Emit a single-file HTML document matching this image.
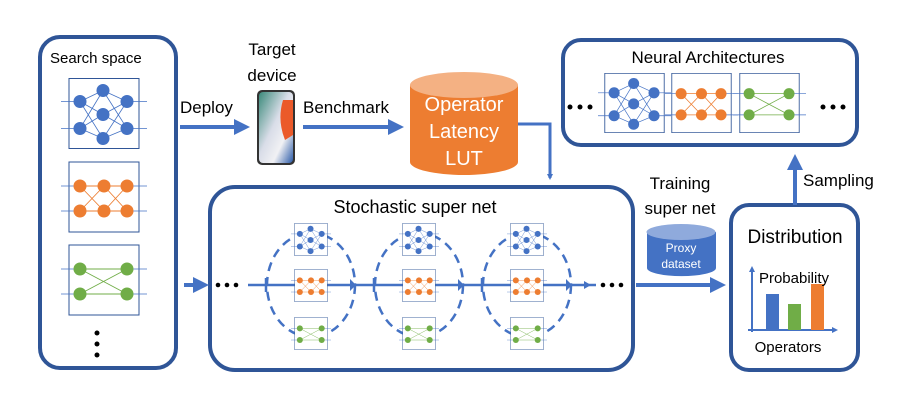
<!DOCTYPE html>
<html><head><meta charset="utf-8"><style>
html,body{margin:0;padding:0;background:#fff;width:910px;height:404px;overflow:hidden}
text{font-family:"Liberation Sans",sans-serif;fill:#000}
</style></head><body>
<svg width="910" height="404" viewBox="0 0 910 404" xmlns="http://www.w3.org/2000/svg">
<defs>
<marker id="ah" markerWidth="4" markerHeight="4" refX="2.5" refY="2" orient="auto" markerUnits="strokeWidth"><path d="M0,0 L4,2 L0,4 z" fill="#4472C4"/></marker>
<marker id="as" markerWidth="6" markerHeight="6" refX="4" refY="3" orient="auto" markerUnits="userSpaceOnUse"><path d="M0,0 L6,3 L0,6 z" fill="#4472C4"/></marker>
<symbol id="nb" viewBox="-8 0 86 70">
<rect x="0" y="0" width="70" height="70" fill="#fff" stroke="#2F5597" stroke-width="1"/>
<g stroke="#4472C4" stroke-width="0.8">
<line x1="-8" y1="23" x2="11" y2="23"/><line x1="-8" y1="50" x2="11" y2="50"/>
<line x1="58" y1="23" x2="78" y2="23"/><line x1="58" y1="50" x2="78" y2="50"/>
<path d="M11 23L34 12M11 23L34 36M11 23L34 60M11 50L34 12M11 50L34 36M11 50L34 60M58 23L34 12M58 23L34 36M58 23L34 60M58 50L34 12M58 50L34 36M58 50L34 60" fill="none"/></g>
<g fill="#4472C4"><circle cx="11" cy="23" r="6.5"/><circle cx="11" cy="50" r="6.5"/><circle cx="34" cy="12" r="6.5"/><circle cx="34" cy="36" r="6.5"/><circle cx="34" cy="60" r="6.5"/><circle cx="58" cy="23" r="6.5"/><circle cx="58" cy="50" r="6.5"/></g>
</symbol>
<symbol id="no" viewBox="-8 0 86 70">
<rect x="0" y="0" width="70" height="70" fill="#fff" stroke="#2F5597" stroke-width="1"/>
<g stroke="#4472C4" stroke-width="0.8"><line x1="-8" y1="24" x2="11" y2="24"/><line x1="-8" y1="49" x2="11" y2="49"/><line x1="58" y1="24" x2="78" y2="24"/><line x1="58" y1="49" x2="78" y2="49"/></g>
<path d="M11 24H58M11 49H58M11 24L35 49M11 49L35 24M35 24L58 49M35 49L58 24" stroke="#ED7D31" stroke-width="0.9" fill="none"/>
<g fill="#ED7D31"><circle cx="11" cy="24" r="6.5"/><circle cx="11" cy="49" r="6.5"/><circle cx="35" cy="24" r="6.5"/><circle cx="35" cy="49" r="6.5"/><circle cx="58" cy="24" r="6.5"/><circle cx="58" cy="49" r="6.5"/></g>
</symbol>
<symbol id="ng" viewBox="-8 0 86 70">
<rect x="0" y="0" width="70" height="70" fill="#fff" stroke="#2F5597" stroke-width="1"/>
<g stroke="#4472C4" stroke-width="0.8"><line x1="-8" y1="24" x2="11" y2="24"/><line x1="-8" y1="49" x2="11" y2="49"/><line x1="58" y1="24" x2="78" y2="24"/><line x1="58" y1="49" x2="78" y2="49"/></g>
<path d="M11 24H58M11 49H58M11 24L58 49M11 49L58 24" stroke="#70AD47" stroke-width="0.9" fill="none"/>
<g fill="#70AD47"><circle cx="11" cy="24" r="6.5"/><circle cx="11" cy="49" r="6.5"/><circle cx="58" cy="24" r="6.5"/><circle cx="58" cy="49" r="6.5"/></g>
</symbol>
</defs>

<!-- Search space -->
<rect x="40" y="37" width="136" height="331" rx="20" fill="#fff" stroke="#2F5597" stroke-width="4"/>
<text x="50" y="63" font-size="15">Search space</text>
<use href="#nb" x="61" y="78" width="86" height="71"/>
<use href="#no" x="61" y="161" width="86" height="72"/>
<use href="#ng" x="61" y="244" width="86" height="72"/>
<g fill="#000"><circle cx="97" cy="333" r="2.5"/><circle cx="97" cy="344" r="2.5"/><circle cx="97" cy="355" r="2.5"/></g>

<!-- Deploy / phone / benchmark -->
<line x1="180" y1="127" x2="244" y2="127" stroke="#4472C4" stroke-width="4" marker-end="url(#ah)"/>
<text x="180" y="113" font-size="17">Deploy</text>
<text x="272" y="55" font-size="17" text-anchor="middle">Target</text>
<text x="272" y="81" font-size="17" text-anchor="middle">device</text>
<defs><linearGradient id="ph" x1="0" y1="0" x2="1" y2="1"><stop offset="0" stop-color="#3a8a7a"/><stop offset="0.45" stop-color="#d9dde8"/><stop offset="0.7" stop-color="#f1f1f4"/><stop offset="1" stop-color="#2a5aa8"/></linearGradient></defs>
<rect x="257" y="90" width="38" height="75" rx="5" fill="#333"/>
<rect x="259" y="92" width="34" height="71" rx="4" fill="url(#ph)"/>
<path d="M283 100 Q277 120 285 140 L293 135 L293 100z" fill="#EB5A2A"/>
<line x1="303" y1="127" x2="398" y2="127" stroke="#4472C4" stroke-width="4" marker-end="url(#ah)"/>
<text x="303" y="113" font-size="17">Benchmark</text>

<!-- LUT cylinder -->
<path d="M410 85 V162 A54 13 0 0 0 518 162 V85 z" fill="#ED7D31"/>
<ellipse cx="464" cy="85" rx="54" ry="13" fill="#F4B183"/>
<text x="464" y="111" font-size="20" text-anchor="middle" style="fill:#fff">Operator</text>
<text x="464" y="138" font-size="20" text-anchor="middle" style="fill:#fff">Latency</text>
<text x="464" y="165" font-size="20" text-anchor="middle" style="fill:#fff">LUT</text>
<path d="M518 124 H550 V178" fill="none" stroke="#4472C4" stroke-width="3" marker-end="url(#as)"/>

<!-- Super net -->
<rect x="210" y="187" width="423" height="183" rx="25" fill="#fff" stroke="#2F5597" stroke-width="4"/>
<text x="415" y="213" font-size="18" text-anchor="middle">Stochastic super net</text>
<line x1="184" y1="285" x2="203" y2="285" stroke="#4472C4" stroke-width="4" marker-end="url(#ah)"/>
<g fill="#000"><circle cx="218" cy="285" r="2.3"/><circle cx="227" cy="285" r="2.3"/><circle cx="236" cy="285" r="2.3"/>
<circle cx="603" cy="285" r="2.3"/><circle cx="612" cy="285" r="2.3"/><circle cx="621" cy="285" r="2.3"/></g>
<line x1="248" y1="285" x2="596" y2="285" stroke="#4472C4" stroke-width="2.5"/>
<g fill="none" stroke="#4472C4" stroke-width="2.5" stroke-dasharray="9,6">
<ellipse cx="311" cy="285" rx="44" ry="52"/>
<ellipse cx="419" cy="285" rx="44" ry="52"/>
<ellipse cx="527" cy="285" rx="44" ry="52"/>
</g>
<g stroke="#4472C4" stroke-width="2.5"><line x1="266" y1="278" x2="266" y2="292"/><line x1="374" y1="278" x2="374" y2="292"/><line x1="482" y1="278" x2="482" y2="292"/></g>
<use href="#nb" x="291" y="223" width="40" height="33"/>
<use href="#no" x="291" y="269" width="40" height="33"/>
<use href="#ng" x="291" y="317" width="40" height="33"/>
<use href="#nb" x="399" y="223" width="40" height="33"/>
<use href="#no" x="399" y="269" width="40" height="33"/>
<use href="#ng" x="399" y="317" width="40" height="33"/>
<use href="#nb" x="507" y="223" width="40" height="33"/>
<use href="#no" x="507" y="269" width="40" height="33"/>
<use href="#ng" x="507" y="317" width="40" height="33"/>
<g fill="#4472C4"><path d="M350 279 L356 285 L350 291z"/><path d="M458 279 L464 285 L458 291z"/><path d="M566 279 L572 285 L566 291z"/><path d="M584 281 L591 285 L584 289z"/></g>

<!-- Training / proxy -->
<text x="680" y="189" font-size="17" text-anchor="middle">Training</text>
<text x="680" y="214" font-size="17" text-anchor="middle">super net</text>
<path d="M647 232 V268 A34 8 0 0 0 716 268 V232 z" fill="#4472C4"/>
<ellipse cx="681" cy="232" rx="34.5" ry="8" fill="#8FAADC"/>
<text x="681" y="252" font-size="12" text-anchor="middle" style="fill:#fff">Proxy</text>
<text x="681" y="268" font-size="12" text-anchor="middle" style="fill:#fff">dataset</text>
<line x1="636" y1="285" x2="720" y2="285" stroke="#4472C4" stroke-width="4" marker-end="url(#ah)"/>

<!-- Distribution -->
<rect x="731" y="205" width="127" height="165" rx="18" fill="#fff" stroke="#2F5597" stroke-width="4"/>
<text x="795" y="243" font-size="19" text-anchor="middle">Distribution</text>
<line x1="752" y1="332" x2="752" y2="268" stroke="#4472C4" stroke-width="2" marker-end="url(#as)"/>
<line x1="748" y1="330" x2="836" y2="330" stroke="#4472C4" stroke-width="2" marker-end="url(#as)"/>
<rect x="766" y="294" width="13" height="36" fill="#4472C4"/>
<rect x="788" y="304" width="13" height="26" fill="#70AD47"/>
<rect x="811" y="284" width="13" height="46" fill="#ED7D31"/>
<text x="794" y="283" font-size="15" text-anchor="middle">Probability</text>
<text x="788" y="352" font-size="15" text-anchor="middle">Operators</text>
<line x1="795" y1="205" x2="795" y2="160" stroke="#4472C4" stroke-width="4" marker-end="url(#ah)"/>
<text x="803" y="186" font-size="17">Sampling</text>

<!-- Neural architectures -->
<rect x="563" y="40" width="294" height="105" rx="18" fill="#fff" stroke="#2F5597" stroke-width="4"/>
<text x="708" y="63" font-size="17" text-anchor="middle">Neural Architectures</text>
<use href="#nb" x="598" y="73" width="73" height="60"/>
<use href="#no" x="665" y="73" width="73" height="60"/>
<use href="#ng" x="733" y="73" width="73" height="60"/>
<g fill="#000"><circle cx="570" cy="107" r="2.5"/><circle cx="580" cy="107" r="2.5"/><circle cx="590" cy="107" r="2.5"/>
<circle cx="823" cy="107" r="2.5"/><circle cx="833" cy="107" r="2.5"/><circle cx="843" cy="107" r="2.5"/></g>
</svg>
</body></html>
